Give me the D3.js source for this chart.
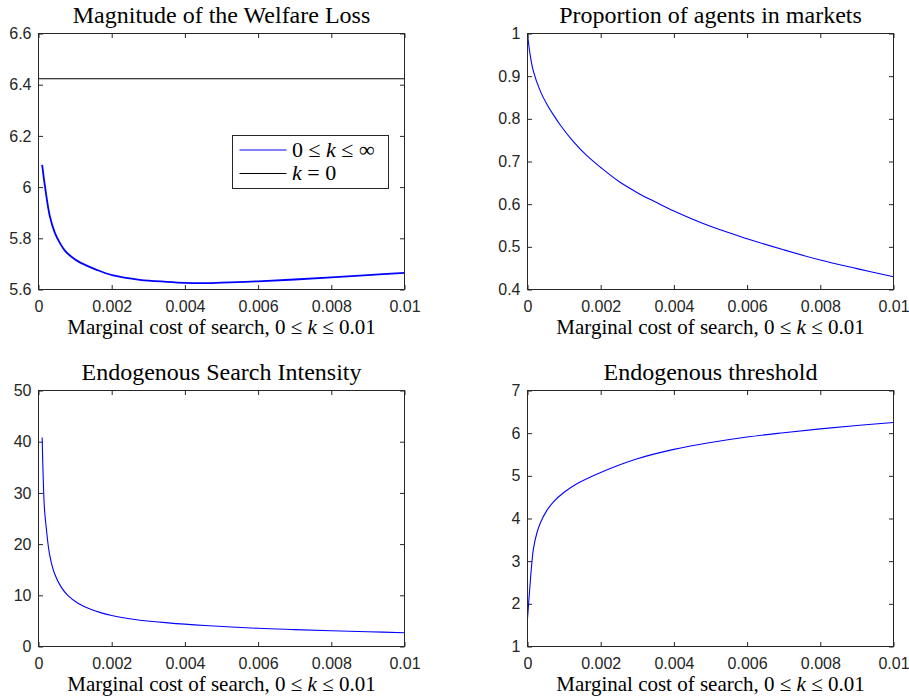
<!DOCTYPE html>
<html>
<head>
<meta charset="utf-8">
<script src="https://cdn.jsdelivr.net/npm/d3@7"></script>
<style>
  body { margin: 0; background: #fff; }
  .ttl, .xlab, .leg { font-family: "Liberation Serif", "Times New Roman", serif; fill: #000; }
</style>
</head>
<body>
<script>
// top-left: welfare loss
var kWelfare = [0.0001, 0.00018, 0.00031, 0.00045, 0.00059, 0.00072, 0.0009, 0.00113, 0.00159, 0.00204, 0.00277, 0.0035, 0.004, 0.0045, 0.005, 0.006, 0.007, 0.008, 0.009, 0.01];
var welfareLoss = [6.087, 6.0, 5.886, 5.82, 5.78, 5.752, 5.728, 5.706, 5.677, 5.655, 5.638, 5.63, 5.626, 5.625, 5.627, 5.632, 5.639, 5.647, 5.656, 5.665];
var welfareZero = 6.423;
var welfareTicks = [5.6, 5.8, 6, 6.2, 6.4, 6.6];

// top-right: proportion of agents in markets
var kProp = [0, 0.00007, 0.00016, 0.00035, 0.00053, 0.00071, 0.0009, 0.00126, 0.00163, 0.002, 0.0025, 0.003, 0.0035, 0.004, 0.005, 0.006, 0.007, 0.008, 0.009, 0.01];
var propMarkets = [1.0, 0.951, 0.912, 0.865, 0.834, 0.809, 0.785, 0.746, 0.713, 0.686, 0.653, 0.627, 0.605, 0.584, 0.548, 0.519, 0.493, 0.469, 0.449, 0.43];
var propTicks = [0.4, 0.5, 0.6, 0.7, 0.8, 0.9, 1];

// bottom-left: search intensity
var kSearch = [0.0001, 0.00012, 0.00016, 0.00021, 0.0003, 0.00044, 0.00062, 0.0008, 0.00108, 0.00144, 0.002, 0.00263, 0.00354, 0.00455, 0.006, 0.007, 0.008, 0.009, 0.01];
var searchIntensity = [40.8, 35.0, 27.2, 23.3, 18.1, 14.2, 11.6, 10.0, 8.46, 7.23, 6.05, 5.27, 4.62, 4.1, 3.55, 3.3, 3.08, 2.88, 2.7];
var searchTicks = [0, 10, 20, 30, 40, 50];

// bottom-right: threshold
var kThresh = [0, 0.00012, 0.000164, 0.000256, 0.000347, 0.00053, 0.00071, 0.001, 0.00135, 0.002, 0.003, 0.004, 0.005, 0.006, 0.007, 0.008, 0.009, 0.01];
var threshold = [1.65, 2.97, 3.3, 3.66, 3.89, 4.19, 4.39, 4.615, 4.815, 5.08, 5.4, 5.62, 5.78, 5.91, 6.01, 6.1, 6.18, 6.25];
var threshTicks = [1, 2, 3, 4, 5, 6, 7];

var xTicks = [0, 0.002, 0.004, 0.006, 0.008, 0.01];

var panels = [
  {title: "Magnitude of the Welfare Loss", left: 38.5, top: 33.5, k: kWelfare, v: welfareLoss, yt: welfareTicks, lw: 1.8},
  {title: "Proportion of agents in markets", left: 527.5, top: 33.5, k: kProp, v: propMarkets, yt: propTicks, lw: 1.1},
  {title: "Endogenous Search Intensity", left: 38.5, top: 390.5, k: kSearch, v: searchIntensity, yt: searchTicks, lw: 1.1},
  {title: "Endogenous threshold", left: 527.5, top: 390.5, k: kThresh, v: threshold, yt: threshTicks, lw: 1.1}
];

var W = 366, H = 256;

var svg = d3.select("body").append("svg")
  .attr("width", 909)
  .attr("height", 699);

function xlabel(g) {
  g.append("tspan").text("Marginal cost of search, 0 \u2264 ");
  g.append("tspan").style("font-style", "italic").text("k");
  g.append("tspan").text(" \u2264 0.01");
}

function styleTicks(ax) {
  ax.selectAll(".tick line").attr("stroke", "#262626");
  ax.selectAll(".tick text")
    .style("font-family", "'Liberation Sans', Arial, sans-serif")
    .style("font-size", "16px")
    .attr("fill", "#262626");
}

panels.forEach(function(p, i) {
  var g = svg.append("g").attr("transform", `translate(${p.left}, ${p.top})`);

  var x = d3.scaleLinear().domain([0, 0.01]).range([0, W]);
  var y = d3.scaleLinear().domain(d3.extent(p.yt)).range([H, 0]);

  g.append("g")
    .attr("transform", `translate(0, ${H})`)
    .call(d3.axisBottom(x).tickValues(xTicks).tickSizeInner(-4.5).tickSizeOuter(0).tickPadding(11)
      .tickFormat(d => d === 0 ? "0" : String(+d.toFixed(3))))
    .call(styleTicks);
  g.append("g")
    .call(d3.axisTop(x).tickValues(xTicks).tickSizeInner(-4.5).tickSizeOuter(0).tickFormat(""))
    .call(styleTicks);
  g.append("g")
    .call(d3.axisLeft(y).tickValues(p.yt).tickSizeInner(-4.5).tickSizeOuter(0).tickPadding(7)
      .tickFormat(d => String(+d.toFixed(2))))
    .call(styleTicks);
  g.append("g")
    .attr("transform", `translate(${W}, 0)`)
    .call(d3.axisRight(y).tickValues(p.yt).tickSizeInner(-4.5).tickSizeOuter(0).tickFormat(""))
    .call(styleTicks);
  g.selectAll(".domain").remove();

  if (i === 0) {
    g.append("line")
      .attr("x1", x(0)).attr("x2", x(0.01))
      .attr("y1", y(welfareZero)).attr("y2", y(welfareZero))
      .attr("stroke", "#000").attr("stroke-width", 1.1);
  }

  var line = d3.line()
    .x((d, j) => x(p.k[j]))
    .y(d => y(d))
    .curve(d3.curveCatmullRom.alpha(0.5));

  g.append("path")
    .datum(p.v)
    .attr("d", line)
    .attr("fill", "none")
    .attr("stroke", "#0000ff")
    .attr("stroke-width", p.lw);

  g.append("rect")
    .attr("width", W).attr("height", H)
    .attr("fill", "none")
    .attr("stroke", "#262626")
    .attr("stroke-width", 1);

  g.append("text")
    .attr("class", "ttl")
    .attr("x", W / 2).attr("y", -11)
    .attr("text-anchor", "middle")
    .style("font-size", "24px")
    .text(p.title);

  g.append("text")
    .attr("class", "xlab")
    .attr("x", W / 2).attr("y", H + 44.5)
    .attr("text-anchor", "middle")
    .style("font-size", "21px")
    .call(xlabel);

  if (i === 0) {
    var leg = g.append("g").attr("transform", `translate(${232.5 - p.left}, ${135.5 - p.top})`);
    leg.append("rect").attr("width", 156).attr("height", 53)
      .attr("fill", "#fff").attr("stroke", "#262626");
    var items = [{c: "#0000ff", w: 1.1}, {c: "#000", w: 1.1}];
    items.forEach(function(it, j) {
      var yy = 14.5 + j * 23.5;
      leg.append("line").attr("x1", 7).attr("x2", 54).attr("y1", yy).attr("y2", yy)
        .attr("stroke", it.c).attr("stroke-width", it.w);
    });
    var t1 = leg.append("text").attr("class", "leg").attr("x", 59.5).attr("y", 21).style("font-size", "22px");
    t1.append("tspan").text("0 \u2264 ");
    t1.append("tspan").style("font-style", "italic").text("k");
    t1.append("tspan").text(" \u2264 \u221e");
    var t2 = leg.append("text").attr("class", "leg").attr("x", 59.5).attr("y", 44.5).style("font-size", "22px");
    t2.append("tspan").style("font-style", "italic").text("k");
    t2.append("tspan").text(" = 0");
  }
});
</script>
</body>
</html>
